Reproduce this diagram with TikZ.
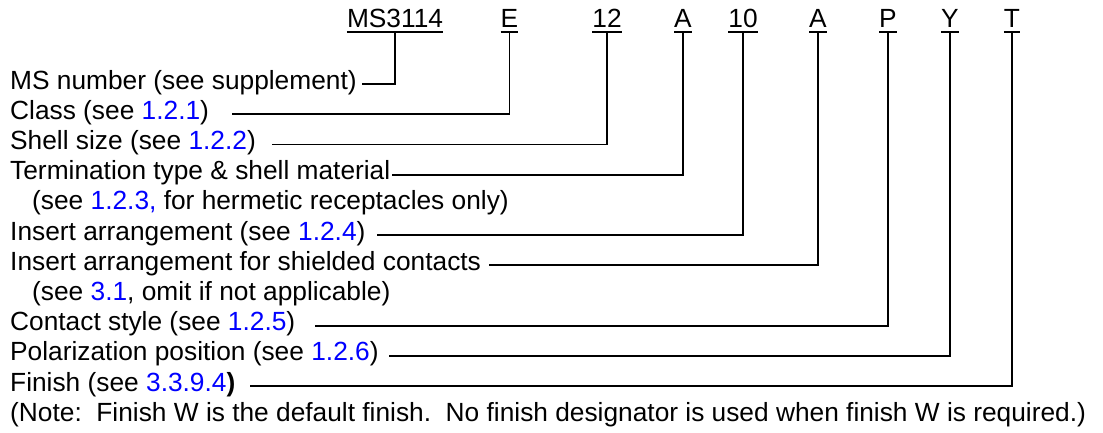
\documentclass[tikz,border=0pt]{standalone}
\usepackage{fontspec}
\setmainfont{Liberation Sans}
\newcommand{\secref}[1]{\textcolor{blue}{#1}}
\begin{document}
\begin{tikzpicture}[x=1pt, y=-1pt,
    every node/.style={font=\fontsize{26.3}{30}\selectfont, inner sep=0pt},
    code/.style={anchor=base},
    lbl/.style={anchor=base west},
    link/.style={line width=1.8pt, black},
  ]
  \useasboundingbox (0,0) rectangle (1103,432);

  % --- part number ---
  \foreach \name/\x/\txt in {ms/395/MS3114, cls/509.5/E, size/607/12, term/683/A,
      ins/743/10, shld/818/A, cont/888/P, pol/950/Y, fin/1012/T} {
    \node[code] (\name) at (\x,27) {\txt};
    \draw[link] ([yshift=-5pt]\name.base west) -- ([yshift=-5pt]\name.base east);
  }

  % --- explanations ---
  \node[lbl] (lms)   at (10,89)    {MS number (see supplement)};
  \node[lbl] (lcls)  at (10,119.2) {Class (see \secref{1.2.1})};
  \node[lbl] (lsize) at (10,149.4) {Shell size (see \secref{1.2.2})};
  \node[lbl] (lterm) at (10,179.6) {Termination type \& shell material};
  \node[lbl] (lterm2) at (32,209.8) {(see \secref{1.2.3,} for hermetic receptacles only)};
  \node[lbl] (lins)  at (10,240)   {Insert arrangement (see \secref{1.2.4})};
  \node[lbl] (lshld) at (10,270.2) {Insert arrangement for shielded contacts};
  \node[lbl] (lshld2) at (32,300.4) {(see \secref{3.1}, omit if not applicable)};
  \node[lbl] (lcont) at (10,330.6) {Contact style (see \secref{1.2.5})};
  \node[lbl] (lpol)  at (10,360.8) {Polarization position (see \secref{1.2.6})};
  \node[lbl] (lfin)  at (10,391)   {Finish (see \secref{3.3.9.4}\textbf{)}};
  \node[lbl] (lnote) at (10,421.2) {(Note:\ \ Finish W is the default finish.\ \ No finish designator is used when finish W is required.)};

  % line starts, a little after each text
  \foreach \name/\gap in {ms/5, cls/23, size/16, term/2, ins/11, shld/8, cont/20, pol/10, fin/14}
    \coordinate (s\name) at ([xshift=\gap pt, yshift=5pt]l\name.base east);

  % --- leaders ---
  \foreach \name in {ms, cls, size, term, ins, shld, cont, pol, fin}
    \draw[link] ([yshift=-5pt]\name.base) |- (s\name);
\end{tikzpicture}
\end{document}
